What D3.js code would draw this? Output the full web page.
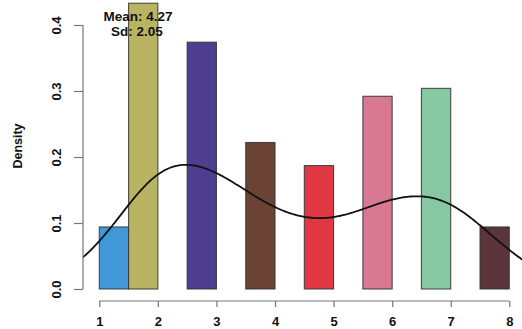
<!DOCTYPE html>
<html>
<head>
<meta charset="utf-8">
<script src="https://cdn.jsdelivr.net/npm/d3@7"></script>
<style>
  html, body { margin: 0; padding: 0; background: #fff; }
  svg { display: block; font-family: "Liberation Sans", Arial, sans-serif; }
</style>
</head>
<body>
<div id="chart"></div>
<script>
// histogram bins (value, bin edges, density)
var values = [1, 2, 3, 4, 5, 6, 7, 8];
var binStart = [1, 1.5, 2.5, 3.5, 4.5, 5.5, 6.5, 7.5];
var binEnd = [1.5, 2, 3, 4, 5, 6, 7, 8];
var density = [0.094, 0.433, 0.374, 0.222, 0.187, 0.292, 0.304, 0.094];
var barColors = ['#4098D9', '#B8B462', '#4F3D8F', '#6A4334', '#E03745', '#D97893', '#85C8A2', '#5E343C'];
var xTicks = [1, 2, 3, 4, 5, 6, 7, 8];
var yTicks = [0.0, 0.1, 0.2, 0.3, 0.4];
var meanLabel = 'Mean: 4.27';
var sdLabel = 'Sd: 2.05';
var bandwidth = 0.69;

var svgwidth = 522, svgheight = 329;
// plot region (like R's usr region)
var plot = {left: 83, right: 525, top: -8, bottom: 300};

var svg = d3.select('#chart').append('svg')
    .attr('width', svgwidth)
    .attr('height', svgheight);

var x = d3.scaleLinear().domain([1, 8]).range([99.3, 509.3]);
var y = d3.scaleLinear().domain([0, 0.4]).range([289, 25]);

svg.append('clipPath').attr('id', 'plotclip')
    .append('rect')
    .attr('x', plot.left).attr('y', plot.top)
    .attr('width', plot.right - plot.left)
    .attr('height', plot.bottom - plot.top);

var gPlot = svg.append('g').attr('clip-path', 'url(#plotclip)');

// bars
gPlot.selectAll('rect.bar')
    .data(density)
    .enter()
    .append('rect')
    .attr('class', 'bar')
    .attr('x', function (d, i) { return x(binStart[i]); })
    .attr('y', function (d) { return y(d); })
    .attr('width', function (d, i) { return x(binEnd[i]) - x(binStart[i]); })
    .attr('height', function (d) { return y(0) - y(d); })
    .attr('fill', function (d, i) { return barColors[i]; })
    .attr('stroke', '#333')
    .attr('stroke-opacity', 0.85)
    .attr('stroke-width', 1.1);

// kernel density from the binned values
var total = d3.sum(density);
var weights = density.map(function (d) { return d / total; });
var gridX = d3.range(0, 9.001, 0.02);
var kde = gridX.map(function (g) {
    var s = 0;
    values.forEach(function (v, i) {
        var z = (g - v) / bandwidth;
        s += weights[i] * Math.exp(-0.5 * z * z);
    });
    return [g, s / (bandwidth * Math.sqrt(2 * Math.PI))];
});

gPlot.append('path')
    .datum(kde)
    .attr('fill', 'none')
    .attr('stroke', '#111')
    .attr('stroke-width', 1.8)
    .attr('d', d3.line()
        .x(function (d) { return x(d[0]); })
        .y(function (d) { return y(d[1]); }));

// y axis
var yAxis = svg.append('g')
    .attr('transform', 'translate(' + plot.left + ',0)')
    .call(d3.axisLeft(y).tickValues(yTicks).tickSize(9).tickFormat(d3.format('.1f')));
yAxis.select('.domain').attr('stroke', '#777').attr('stroke-width', 1.2);
yAxis.selectAll('.tick line').attr('stroke', '#777').attr('stroke-width', 1.2);
yAxis.selectAll('.tick text')
    .attr('transform', 'rotate(-90)')
    .attr('x', 0)
    .attr('y', -27)
    .attr('dy', '0.35em')
    .attr('text-anchor', 'middle')
    .attr('font-size', '13px')
    .attr('font-weight', 'bold')
    .attr('fill', '#111');
// R style: domain only spans the ticks
yAxis.select('.domain').attr('d', 'M-0,' + y(0) + 'V' + y(0.4));

// x axis
var xAxis = svg.append('g')
    .attr('transform', 'translate(0,301)')
    .call(d3.axisBottom(x).tickValues(xTicks).tickSize(6).tickFormat(d3.format('d')));
xAxis.select('.domain').attr('stroke', '#777').attr('stroke-width', 1.2)
    .attr('d', 'M' + x(1) + ',0H' + x(8));
xAxis.selectAll('.tick line').attr('stroke', '#777').attr('stroke-width', 1.2);
xAxis.selectAll('.tick text')
    .attr('y', 16)
    .attr('dy', '0.71em')
    .attr('font-size', '13px')
    .attr('font-weight', 'bold')
    .attr('fill', '#111');

// y title
svg.append('text')
    .attr('transform', 'translate(18,146) rotate(-90)')
    .attr('text-anchor', 'middle')
    .attr('dy', '0.35em')
    .attr('font-size', '12.5px')
    .attr('font-weight', 'bold')
    .attr('fill', '#111')
    .text('Density');

// mean / sd annotation
svg.append('text')
    .attr('x', 138).attr('y', 16)
    .attr('dy', '0.35em')
    .attr('text-anchor', 'middle')
    .attr('font-size', '13.5px')
    .attr('font-weight', 'bold')
    .attr('fill', '#111')
    .text(meanLabel);
svg.append('text')
    .attr('x', 137).attr('y', 31)
    .attr('dy', '0.35em')
    .attr('text-anchor', 'middle')
    .attr('font-size', '13.5px')
    .attr('font-weight', 'bold')
    .attr('fill', '#111')
    .text(sdLabel);
</script>
</body>
</html>
